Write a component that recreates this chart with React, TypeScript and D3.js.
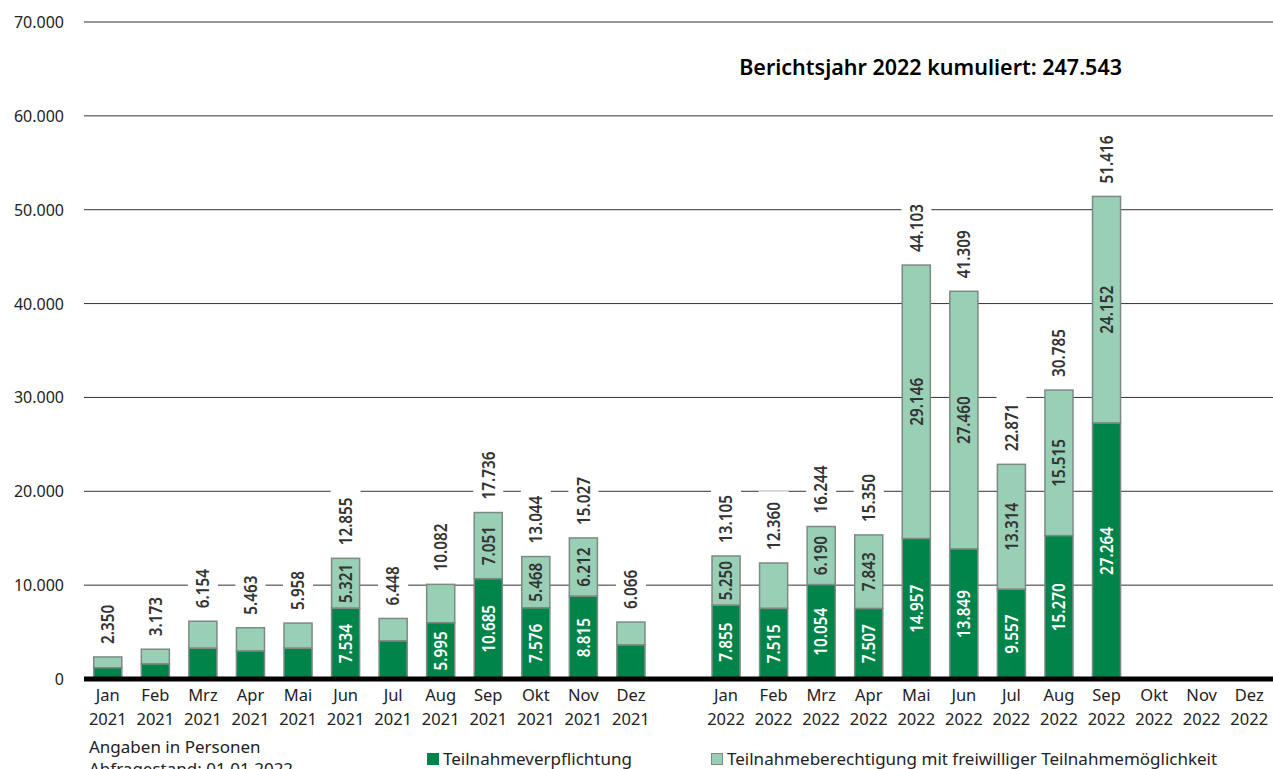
import * as d3 from 'd3';

const W = 1273;
const H = 769;
const MARGIN = { top: 22, right: 0, bottom: 90, left: 84 };

// months, with one empty slot between the two years
const months2021 = ['Jan', 'Feb', 'Mrz', 'Apr', 'Mai', 'Jun', 'Jul', 'Aug', 'Sep', 'Okt', 'Nov', 'Dez'];
const months2022 = ['Jan', 'Feb', 'Mrz', 'Apr', 'Mai', 'Jun', 'Jul', 'Aug', 'Sep', 'Okt', 'Nov', 'Dez'];

// Teilnahmeverpflichtung (dark)
const pflicht2021 = [1200, 1600, 3270, 2980, 3270, 7534, 4050, 5995, 10685, 7576, 8815, 3620];
const pflicht2022 = [7855, 7515, 10054, 7507, 14957, 13849, 9557, 15270, 27264];
// Teilnahmeberechtigung mit freiwilliger Teilnahmemöglichkeit (light)
const freiw2021 = [1150, 1573, 2884, 2483, 2688, 5321, 2398, 4087, 7051, 5468, 6212, 2446];
const freiw2022 = [5250, 4845, 6190, 7843, 29146, 27460, 13314, 15515, 24152];

const yTicks = [0, 10000, 20000, 30000, 40000, 50000, 60000, 70000];

const DARK = '#00844a';
const LIGHT = '#99cfb5';
const EDGE = '#7d8a84';
const TEXT = '#222';
const FONT = '"Noto Sans", sans-serif';
const LABEL_MIN = 5000;
const SQUEEZE = 0.9; // bar labels are set in a narrow face

type Slot = { key: string; month: string; year: string; pflicht?: number; freiw?: number };

const slots: Slot[] = [
  ...months2021.map((m, i) => ({ key: `${m}-2021`, month: m, year: '2021', pflicht: pflicht2021[i], freiw: freiw2021[i] })),
  { key: 'gap', month: '', year: '' },
  ...months2022.map((m, i) => ({ key: `${m}-2022`, month: m, year: '2022', pflicht: pflicht2022[i], freiw: freiw2022[i] })),
];

const fmt = (v: number) => d3.format(',')(v).replace(/,/g, '.');

const VLabel = ({ x, y, anchor, fill, children }: { x: number; y: number; anchor: string; fill: string; children: string }) => (
  <text
    transform={`translate(${x},${y}) rotate(-90) scale(${SQUEEZE},1)`}
    textAnchor={anchor}
    dominantBaseline="central"
    fontSize={17}
    fontWeight={600}
    fill={fill}
  >
    {children}
  </text>
);

export default function App() {
  const boundsWidth = W - MARGIN.left - MARGIN.right;
  const baseY = 679;

  const xScale = d3
    .scaleBand<string>()
    .domain(slots.map((s) => s.key))
    .range([MARGIN.left, MARGIN.left + boundsWidth])
    .paddingInner(0.41)
    .paddingOuter(0.205);
  const yScale = d3.scaleLinear().domain([0, 70000]).range([baseY, MARGIN.top]);
  const bw = xScale.bandwidth();

  const cumul2022 = d3.sum(pflicht2022) + d3.sum(freiw2022);

  return (
    <svg width={W} height={H} style={{ position: 'absolute', left: 0, top: 0 }} fontFamily={FONT}>
      {/* grid + y axis */}
      {yTicks.map((t) => (
        <g key={t}>
          {t > 0 && <line x1={MARGIN.left} x2={W} y1={yScale(t)} y2={yScale(t)} stroke="#333" strokeWidth={1} />}
          <text x={64} y={yScale(t)} textAnchor="end" dominantBaseline="central" fontSize={16} fill={TEXT}>
            {fmt(t)}
          </text>
        </g>
      ))}

      {/* white boxes behind total labels to break grid lines */}
      {slots.map((s) => {
        if (s.pflicht === undefined || s.freiw === undefined) return null;
        const total = s.pflicht + s.freiw;
        const cx = (xScale(s.key) || 0) + bw / 2;
        const top = yScale(total) - 13;
        const len = fmt(total).length * 8.8;
        return <rect key={s.key + 'bg'} x={cx - 15} y={top - len - 6} width={30} height={len + 12} fill="white" />;
      })}

      {/* bars */}
      {slots.map((s) => {
        if (s.pflicht === undefined || s.freiw === undefined) return null;
        const x = xScale(s.key) || 0;
        const cx = x + bw / 2;
        const yP = yScale(s.pflicht);
        const yT = yScale(s.pflicht + s.freiw);
        return (
          <g key={s.key}>
            <rect x={x} y={yT} width={bw} height={yP - yT} fill={LIGHT} stroke={EDGE} strokeWidth={1.5} />
            <rect x={x} y={yP} width={bw} height={baseY - yP} fill={DARK} stroke={EDGE} strokeWidth={1.5} />
            {s.pflicht >= LABEL_MIN && (
              <VLabel x={cx} y={(yP + baseY) / 2} anchor="middle" fill="white">
                {fmt(s.pflicht)}
              </VLabel>
            )}
            {s.freiw >= LABEL_MIN && (
              <VLabel x={cx} y={(yP + yT) / 2} anchor="middle" fill="#333">
                {fmt(s.freiw)}
              </VLabel>
            )}
            <VLabel x={cx} y={yT - 13} anchor="start" fill="#333">
              {fmt(s.pflicht + s.freiw)}
            </VLabel>
          </g>
        );
      })}

      {/* baseline */}
      <line x1={MARGIN.left} x2={W} y1={baseY} y2={baseY} stroke="#000" strokeWidth={5} />

      {/* x axis labels */}
      {slots.map((s) =>
        s.month ? (
          <g key={s.key + 'lab'} fontSize={16.5} fill={TEXT} textAnchor="middle">
            <text x={(xScale(s.key) || 0) + bw / 2} y={701}>{s.month}</text>
            <text x={(xScale(s.key) || 0) + bw / 2} y={725}>{s.year}</text>
          </g>
        ) : null
      )}

      {/* title */}
      <text x={1122} y={75} textAnchor="end" fontSize={21.5} fontWeight={600} fill="#000">
        {`Berichtsjahr 2022 kumuliert: ${fmt(cumul2022)}`}
      </text>

      {/* notes */}
      <text x={89} y={753} fontSize={17} fill={TEXT}>Angaben in Personen</text>
      <text x={89} y={775} fontSize={17} fill={TEXT}>Abfragestand: 01.01.2022</text>

      {/* legend */}
      <rect x={427} y={753} width={12} height={12} fill={DARK} />
      <text x={443} y={765} fontSize={17} fill={TEXT}>Teilnahmeverpflichtung</text>
      <rect x={711.5} y={753.5} width={11} height={11} fill={LIGHT} stroke={EDGE} strokeWidth={1} />
      <text x={727} y={765} fontSize={17} fill={TEXT}>Teilnahmeberechtigung mit freiwilliger Teilnahmemöglichkeit</text>
    </svg>
  );
}
